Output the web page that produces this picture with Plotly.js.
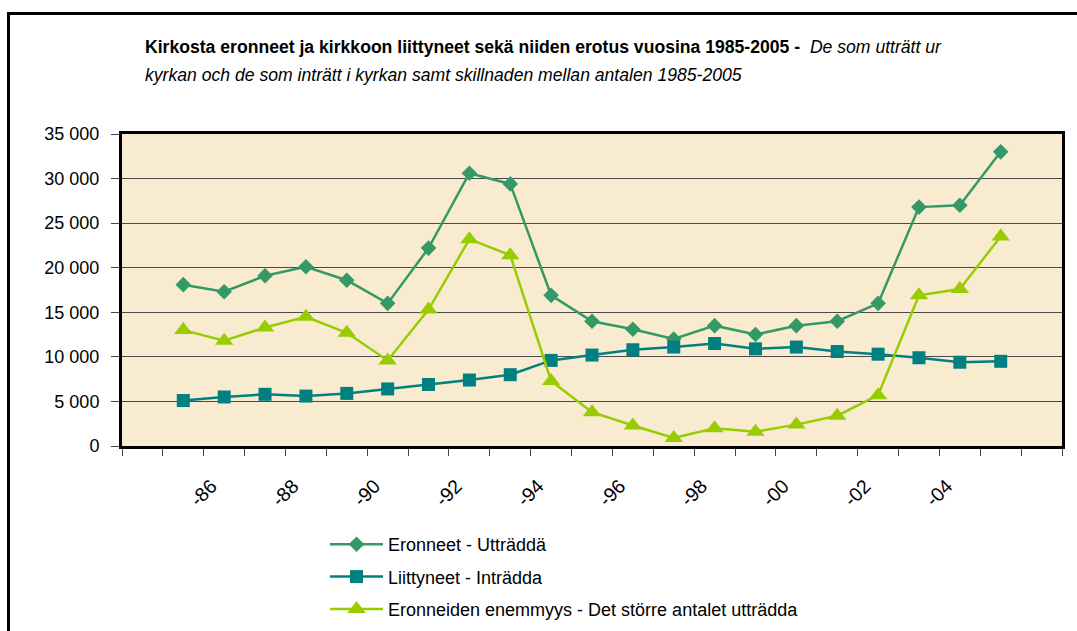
<!DOCTYPE html>
<html>
<head>
<meta charset="utf-8">
<script src="https://cdn.plot.ly/plotly-3.0.1.min.js"></script>
<style>
  html, body { margin: 0; padding: 0; background: #ffffff; }
  #chart { width: 1077px; height: 631px; }
</style>
</head>
<body>
<div id="chart"></div>
<script>
// Church resignations / joinings in Finland 1985-2005
const years = [1985, 1986, 1987, 1988, 1989, 1990, 1991, 1992, 1993, 1994, 1995,
               1996, 1997, 1998, 1999, 2000, 2001, 2002, 2003, 2004, 2005];
const eronneet = [18100, 17300, 19100, 20100, 18600, 16000, 22200, 30600, 29400, 16900, 14000,
                  13100, 12000, 13500, 12500, 13500, 14000, 16000, 26800, 27000, 33000];
const liittyneet = [5100, 5500, 5800, 5600, 5900, 6400, 6900, 7400, 8000, 9600, 10200,
                    10800, 11100, 11500, 10900, 11100, 10600, 10300, 9900, 9400, 9500];
const enemmyys = [13000, 11800, 13300, 14500, 12700, 9600, 15300, 23200, 21400, 7300, 3800,
                  2300, 900, 2000, 1600, 2400, 3400, 5700, 16900, 17600, 23500];

const tickYears = [1986, 1988, 1990, 1992, 1994, 1996, 1998, 2000, 2002, 2004];
const tickLabels = ['-86', '-88', '-90', '-92', '-94', '-96', '-98', '-00', '-02', '-04'];

const seriesNames = ['Eronneet - Utträddä', 'Liittyneet - Inträdda',
                     'Eronneiden enemmyys - Det större antalet utträdda'];

const FONT = 'Liberation Sans, Arial, sans-serif';

Plotly.newPlot('chart', [
  {
    x: years, y: eronneet, name: seriesNames[0], legendgroup: 'a',
    type: 'scatter', mode: 'lines+markers',
    line: { color: '#339966', width: 2.5 },
    marker: { symbol: 'diamond', color: '#339966', size: 12 },
  },
  {
    x: years, y: liittyneet, name: seriesNames[1], legendgroup: 'b',
    type: 'scatter', mode: 'lines+markers',
    line: { color: '#008080', width: 2.5 },
    marker: { symbol: 'square', color: '#008080', size: 13 },
  },
  {
    x: years, y: enemmyys, name: seriesNames[2], legendgroup: 'c',
    type: 'scatter', mode: 'lines+markers',
    line: { color: '#99cc00', width: 2.5 },
    marker: { symbol: 'triangle-up', color: '#99cc00', size: 16 },
  },
], {
  width: 1077,
  height: 631,
  separators: ', ',
  font: { family: FONT, size: 18, color: '#000000' },
  title: {
    text: '<b>Kirkosta eronneet ja kirkkoon liittyneet sekä niiden erotus vuosina 1985-2005 - </b> <i>De som utträtt ur</i>',
    font: { family: FONT, size: 17.6, color: '#000000' },
    xref: 'container', x: 145 / 1077, xanchor: 'left',
    yref: 'container', y: 1 - 47 / 631, yanchor: 'middle',
  },
  annotations: [{
    text: '<i>kyrkan och de som inträtt i kyrkan samt skillnaden mellan antalen 1985-2005</i>',
    font: { family: FONT, size: 17.6, color: '#000000' },
    xref: 'paper', x: (143 - 122) / 940, xanchor: 'left',
    yref: 'paper', y: (446 - 75) / 312, yanchor: 'middle',
    showarrow: false,
  }],
  xaxis: {
    range: [1983.5, 2006.5],
    tickmode: 'array',
    tickvals: tickYears,
    ticktext: tickLabels,
    tickfont: { family: FONT, size: 19.5, color: '#000000' },
    ticks: '',
    tickangle: -45,
    ticklabelstandoff: 18,
    ticklabelshift: -13,
    showgrid: false,
    zeroline: false,
    showline: true, linecolor: '#000000', linewidth: 3, mirror: true,
    minor: { tick0: 0.5, dtick: 1, ticks: 'outside', ticklen: 7, tickcolor: '#444444', tickwidth: 1, showgrid: false },
    fixedrange: true,
  },
  yaxis: {
    range: [0, 35000],
    dtick: 5000,
    tickformat: ',d',
    ticks: 'outside', ticklen: 8, tickcolor: '#444444', tickwidth: 1,
    ticklabelstandoff: 8,
    showgrid: true, gridcolor: '#4a4a4a', gridwidth: 1,
    zeroline: false,
    showline: true, linecolor: '#000000', linewidth: 3, mirror: true,
    fixedrange: true,
  },
  shapes: [
    { type: 'line', xref: 'paper', yref: 'paper', x0: (8.5 - 122) / 940, x1: (8.5 - 122) / 940,
      y0: (446 - 12) / 312, y1: (446 - 700) / 312, line: { color: '#000000', width: 3 } },
    { type: 'line', xref: 'paper', yref: 'paper', x0: (8.5 - 122) / 940, x1: (1100 - 122) / 940,
      y0: (446 - 13.5) / 312, y1: (446 - 13.5) / 312, line: { color: '#000000', width: 3 } },
  ],
  showlegend: true,
  legend: {
    xref: 'container', x: 325 / 1077, xanchor: 'left',
    yref: 'container', y: 1 - 526 / 631, yanchor: 'top',
    orientation: 'v',
    font: { family: FONT, size: 18, color: '#000000' },
    bgcolor: 'rgba(0,0,0,0)',
    itemwidth: 53,
    tracegroupgap: 6,
  },
  margin: { l: 122, r: 15, t: 134, b: 185, autoexpand: false },
  paper_bgcolor: '#ffffff',
  plot_bgcolor: '#f9ebd0',
}, { displayModeBar: false, staticPlot: true });
</script>
</body>
</html>
